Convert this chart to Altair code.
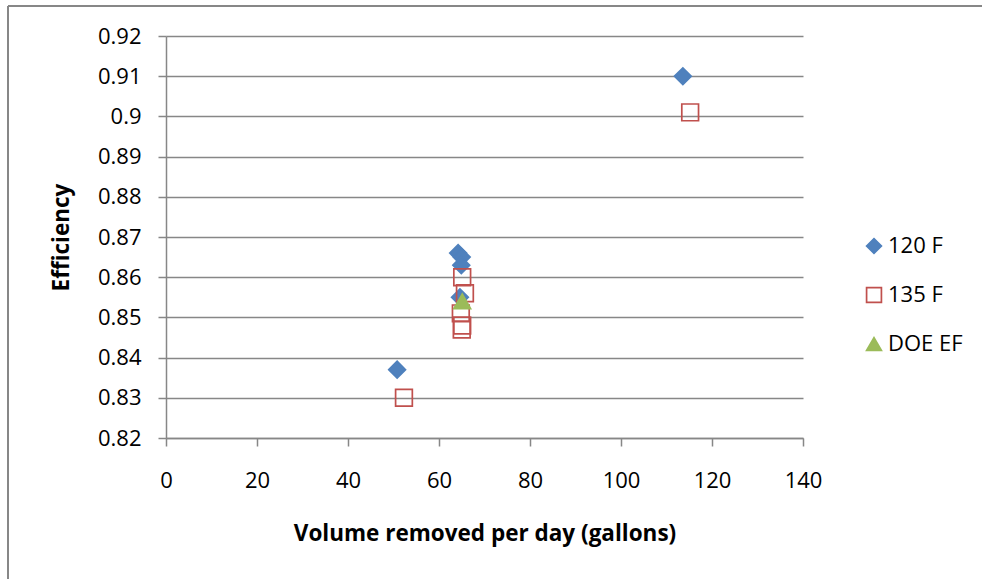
import altair as alt
import pandas as pd

# Water heater test results: daily draw volume vs. efficiency
vol_120 = [50.8, 113.6, 64.2, 65.0, 64.9, 64.6]
eff_120 = [0.837, 0.910, 0.866, 0.865, 0.863, 0.855]

vol_135 = [52.3, 115.2, 65.1, 65.7, 64.8, 65.1, 65.0]
eff_135 = [0.830, 0.901, 0.860, 0.856, 0.851, 0.848, 0.847]

vol_doe = [65.1]
eff_doe = [0.854]

series_names = ["120 F", "135 F", "DOE EF"]

rows = []
for name, xs, ys in zip(series_names, [vol_120, vol_135, vol_doe], [eff_120, eff_135, eff_doe]):
    for x, y in zip(xs, ys):
        rows.append({"series": name, "volume": x, "efficiency": y})
df = pd.DataFrame(rows)
df["order"] = df["series"].map({n: i for i, n in enumerate(series_names)})

FONT = "Open Sans"
GRAY = "#878787"

points = alt.Chart(df).mark_point(filled=False, opacity=1, strokeWidth=1.7, size=280).encode(
    x=alt.X("volume:Q",
            scale=alt.Scale(domain=[0, 140], nice=False, zero=False),
            axis=alt.Axis(values=list(range(0, 141, 20)), title="Volume removed per day (gallons)",
                          grid=False, tickSize=8, labelPadding=24, labelFlush=False, titlePadding=31)),
    y=alt.Y("efficiency:Q",
            scale=alt.Scale(domain=[0.82, 0.92], nice=False, zero=False),
            axis=alt.Axis(values=[round(0.82 + 0.01 * i, 2) for i in range(11)], format=".2~f",
                          title="Efficiency", grid=True, tickSize=8, labelPadding=17, titlePadding=24)),
    shape=alt.Shape("series:N", scale=alt.Scale(domain=series_names, range=["diamond", "square", "triangle-up"]),
                    legend=alt.Legend(title=None)),
    stroke=alt.Stroke("series:N", scale=alt.Scale(domain=series_names, range=["#4F81BD", "#C0504D", "#9BBB59"]),
                      legend=alt.Legend(title=None)),
    fill=alt.Fill("series:N", scale=alt.Scale(domain=series_names, range=["#4F81BD", "transparent", "#9BBB59"]),
                  legend=alt.Legend(title=None)),
    order=alt.Order("order:Q"),
)

# outer frame lines of the chart box
frame_top = alt.Chart(df).mark_rule(color=GRAY, strokeWidth=2).encode(
    x=alt.value(-158), x2=alt.value(830), y=alt.value(-30)
)
frame_left = alt.Chart(df).mark_rule(color=GRAY, strokeWidth=2).encode(
    x=alt.value(-158), y=alt.value(-30), y2=alt.value(560)
)

chart = alt.layer(frame_top, frame_left, points).properties(
    width=637, height=402,
    autosize=alt.AutoSizeParams(type="none"),
    padding={"left": 166, "top": 36, "right": 179, "bottom": 141},
).configure_view(
    stroke=None
).configure_axis(
    domainColor=GRAY, tickColor=GRAY, gridColor=GRAY, domainWidth=1.5, tickWidth=1.5, gridWidth=1.5,
    labelFont=FONT, labelFontSize=22, labelColor="#000000",
    titleFont=FONT, titleFontSize=22.5, titleFontWeight="bold", titleColor="#000000",
).configure_legend(
    orient="none", legendX=697, legendY=199,
    labelFont=FONT, labelFontSize=22, labelColor="#000000",
    symbolSize=220, symbolStrokeWidth=1.7, rowPadding=27, labelOffset=3,
)

chart.save("out.html", embed_options={"renderer": "svg", "actions": False})
